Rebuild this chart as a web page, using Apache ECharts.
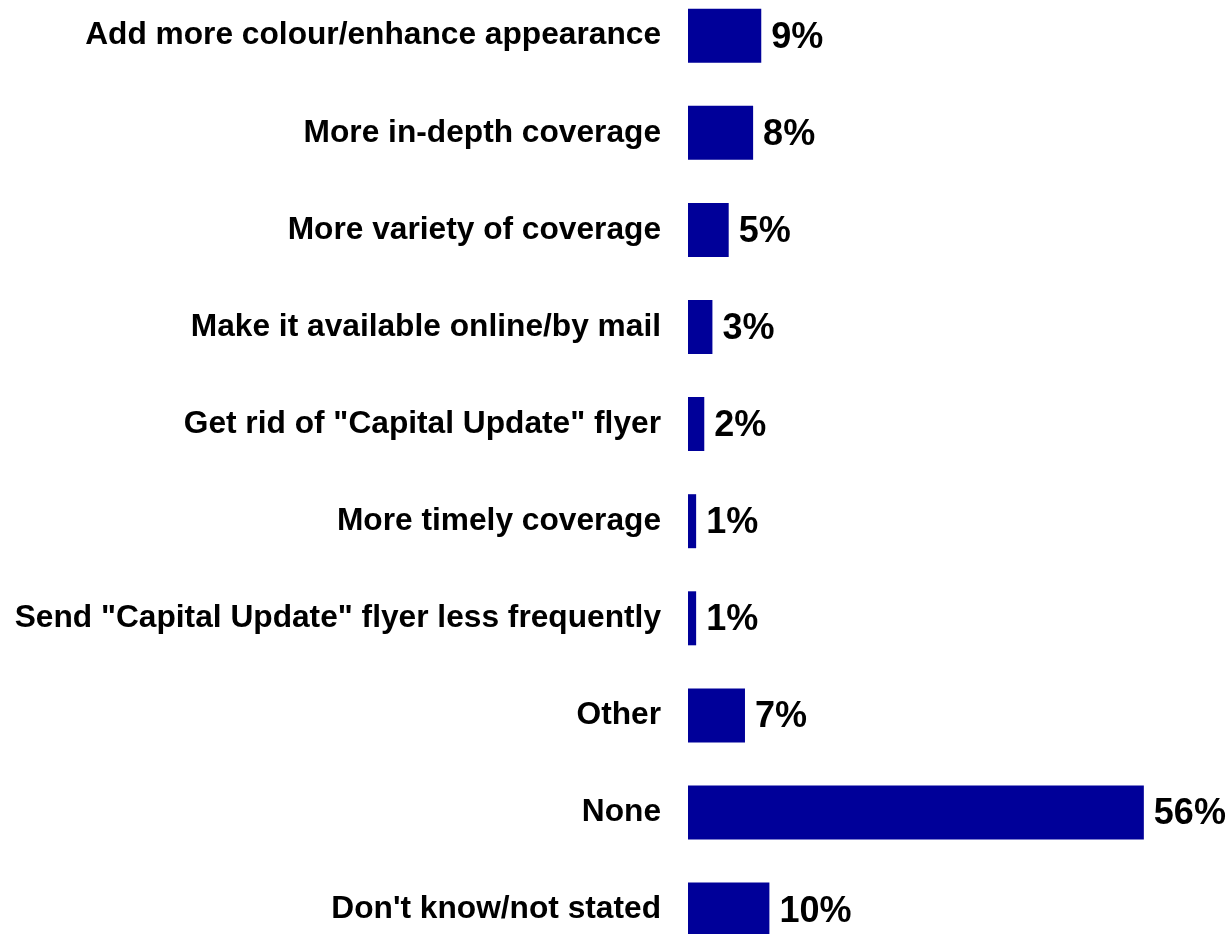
<!DOCTYPE html>
<html>
<head>
<meta charset="utf-8">
<script src="https://cdn.jsdelivr.net/npm/echarts@6/dist/echarts.min.js"></script>
<style>
  html, body { margin: 0; padding: 0; background: #ffffff; }
  #chart { width: 1232px; height: 934px; }
</style>
</head>
<body>
<div id="chart"></div>
<script>
// Suggested improvements, share of respondents (%)
const categories = [
  'Add more colour/enhance appearance',
  'More in-depth coverage',
  'More variety of coverage',
  'Make it available online/by mail',
  'Get rid of "Capital Update" flyer',
  'More timely coverage',
  'Send "Capital Update" flyer less frequently',
  'Other',
  'None',
  "Don't know/not stated"
];
const shares = [9, 8, 5, 3, 2, 1, 1, 7, 56, 10];

const FONT = '"Liberation Sans", Arial, Helvetica, sans-serif';

const chart = echarts.init(document.getElementById('chart'), null, { renderer: 'canvas' });
chart.setOption({
  animation: false,
  backgroundColor: '#ffffff',
  grid: { left: 688, right: 55.6, top: 35.7, bottom: 24.4, containLabel: false },
  xAxis: {
    type: 'value',
    min: 0,
    max: 60,
    show: false
  },
  yAxis: {
    type: 'category',
    data: categories,
    inverse: true,
    boundaryGap: false,
    axisLine: { show: false },
    axisTick: { show: false },
    splitLine: { show: false },
    axisLabel: {
      margin: 27,
      color: '#000000',
      fontFamily: FONT,
      fontWeight: 'bold',
      fontSize: 31.7,
      padding: [5, 0, 0, 0],
      interval: 0
    }
  },
  series: [{
    type: 'bar',
    data: shares,
    barWidth: 54,
    clip: false,
    itemStyle: { color: '#000099' },
    label: {
      show: true,
      position: 'right',
      distance: 10,
      offset: [0, 2],
      color: '#000000',
      fontFamily: FONT,
      fontWeight: 'bold',
      fontSize: 36,
      formatter: p => p.value + '%'
    }
  }]
});
</script>
</body>
</html>
